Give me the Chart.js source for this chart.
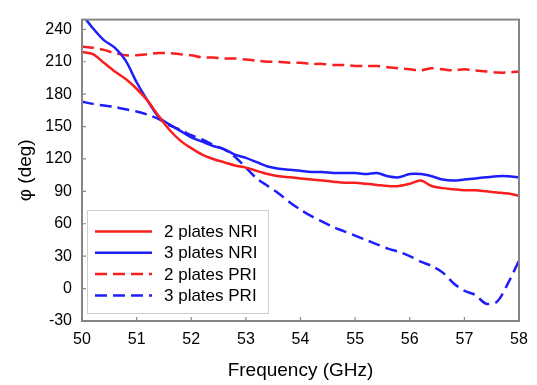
<!DOCTYPE html>
<html>
<head>
<meta charset="utf-8">
<script src="https://cdn.jsdelivr.net/npm/chart.js@4"></script>
<style>
  html, body { margin: 0; padding: 0; background: #fff; }
  #wrap { width: 537px; height: 385px; }
</style>
</head>
<body>
<div id="wrap"><canvas id="myChart" width="537" height="385"></canvas></div>
<script>
// frequency samples (GHz)
var freq = [50, 50.2, 50.4, 50.6, 50.8, 51, 51.2, 51.4, 51.6, 51.8,
            52, 52.2, 52.4, 52.6, 52.8, 53, 53.2, 53.4, 53.6, 53.8,
            54, 54.2, 54.4, 54.6, 54.8, 55, 55.2, 55.4, 55.6, 55.8,
            56, 56.2, 56.4, 56.6, 56.8, 57, 57.2, 57.4, 57.6, 57.8, 58];

var nri2 = [219, 217, 209, 201, 194, 185, 174, 160, 147, 137,
            130, 124, 120, 117, 114, 112, 109, 106, 104, 103,
            102, 101, 100, 99, 98, 98, 97, 96, 95, 95,
            97, 100, 95, 93, 92, 91, 91, 90, 89, 88, 86];

var nri3 = [254, 241, 230, 223, 211, 191, 174, 159, 152, 146,
            140, 136, 132, 129, 124, 121, 117, 113, 111, 110,
            109, 108, 108, 107, 107, 107, 106, 107, 104, 103,
            106, 106, 104, 101, 100, 101, 102, 103, 104, 104, 103];

var pri2 = [224, 223, 221, 218, 216, 216, 217, 218, 218, 217,
            216, 214, 214, 213, 213, 212, 211, 210, 210, 209,
            209, 208, 208, 207, 207, 206, 206, 206, 205, 204,
            203, 202, 204, 203, 202, 203, 202, 201, 200, 200, 201];

var pri3 = [173, 171, 169.5, 168, 166, 164, 161, 157, 151, 147,
            142, 138, 133, 129, 122, 112, 102, 95, 88, 80,
            73, 67, 62, 57, 53, 49, 45, 41, 37, 34,
            30, 25, 21, 15, 5, -2, -6, -14, -12, 5, 26];

var xTicks = [50, 51, 52, 53, 54, 55, 56, 57, 58];
var yTicks = [-30, 0, 30, 60, 90, 120, 150, 180, 210, 240];

var RED = 'rgb(250,30,30)';
var BLUE = 'rgb(30,30,250)';
var FONT = '"Liberation Sans", Arial, sans-serif';

function pts(vals) {
  return freq.map(function (f, i) { return { x: f, y: vals[i] }; });
}

// frame, inward ticks and the legend box inside the plot
var decorations = {
  id: 'decorations',
  afterDatasetsDraw: function (chart) {
    var ctx = chart.ctx, a = chart.chartArea;
    var xs = chart.scales.x, ys = chart.scales.y;
    ctx.save();
    // tick marks pointing in
    ctx.strokeStyle = '#8a8a8a';
    ctx.lineWidth = 1.2;
    ctx.beginPath();
    xTicks.forEach(function (v) {
      var px = xs.getPixelForValue(v);
      ctx.moveTo(px, a.bottom); ctx.lineTo(px, a.bottom - 4);
    });
    yTicks.forEach(function (v) {
      var py = ys.getPixelForValue(v);
      ctx.moveTo(a.left, py); ctx.lineTo(a.left + 4, py);
    });
    ctx.stroke();
    // frame
    ctx.strokeStyle = '#858585';
    ctx.lineWidth = 2;
    ctx.strokeRect(a.left, a.top, a.right - a.left, a.bottom - a.top);

    // legend
    var lx = a.left + 5, ly = 210, lw = 181, lh = 103;
    ctx.fillStyle = '#fff';
    ctx.fillRect(lx, ly, lw, lh);
    ctx.strokeStyle = '#cfcfcf';
    ctx.lineWidth = 1;
    ctx.strokeRect(lx + 0.5, ly + 0.5, lw, lh);
    ctx.font = '17px ' + FONT;
    ctx.textBaseline = 'middle';
    chart.data.datasets.forEach(function (ds, i) {
      var ry = 231.5 + i * 21.3;
      ctx.strokeStyle = ds.borderColor;
      ctx.lineWidth = 2.5;
      ctx.setLineDash(ds.borderDash || []);
      ctx.beginPath();
      ctx.moveTo(lx + 8, ry);
      ctx.lineTo(lx + 65, ry);
      ctx.stroke();
      ctx.setLineDash([]);
      ctx.fillStyle = '#000';
      ctx.fillText(ds.label, lx + 77, ry + 1);
    });
    ctx.restore();
  }
};

const init = function () {
  var ctx = document.getElementById('myChart').getContext('2d');
  var chart = new Chart(ctx, {
    type: 'line',
    data: {
      datasets: [{
        label: '2 plates NRI',
        data: pts(nri2),
        borderColor: RED,
        borderWidth: 2.5
      }, {
        label: '3 plates NRI',
        data: pts(nri3),
        borderColor: BLUE,
        borderWidth: 2.5
      }, {
        label: '2 plates PRI',
        data: pts(pri2),
        borderColor: RED,
        borderWidth: 2.5,
        borderDash: [12, 6]
      }, {
        label: '3 plates PRI',
        data: pts(pri3),
        borderColor: BLUE,
        borderWidth: 2.5,
        borderDash: [12, 6]
      }]
    },
    options: {
      responsive: false,
      animation: false,
      layout: { padding: { top: 5, right: 18, left: 0, bottom: 0 } },
      elements: {
        point: { radius: 0 },
        line: { tension: 0.3, fill: false }
      },
      plugins: {
        legend: { display: false },
        tooltip: { enabled: false }
      },
      scales: {
        x: {
          type: 'linear',
          min: 50, max: 58,
          afterBuildTicks: function (s) { s.ticks = xTicks.map(function (v) { return { value: v }; }); },
          afterFit: function (s) { s.height = 64; },
          grid: { display: false, drawTicks: false },
          border: { display: false },
          ticks: { color: '#000', padding: 9, font: { size: 16, family: FONT } },
          title: {
            display: true,
            text: 'Frequency (GHz)',
            color: '#000',
            font: { size: 19, family: FONT },
            padding: { top: 0, bottom: 3 }
          }
        },
        y: {
          min: -30, max: 249,
          afterBuildTicks: function (s) { s.ticks = yTicks.map(function (v) { return { value: v }; }); },
          afterFit: function (s) { s.width = 82; },
          grid: { display: false, drawTicks: false },
          border: { display: false },
          ticks: { color: '#000', padding: 10, font: { size: 16, family: FONT } },
          title: {
            display: true,
            text: 'φ (deg)',
            color: '#000',
            font: { size: 19, family: FONT },
            padding: { top: 14, bottom: 0 }
          }
        }
      }
    },
    plugins: [decorations]
  });
};

document.addEventListener("DOMContentLoaded", init);
</script>
</body>
</html>
